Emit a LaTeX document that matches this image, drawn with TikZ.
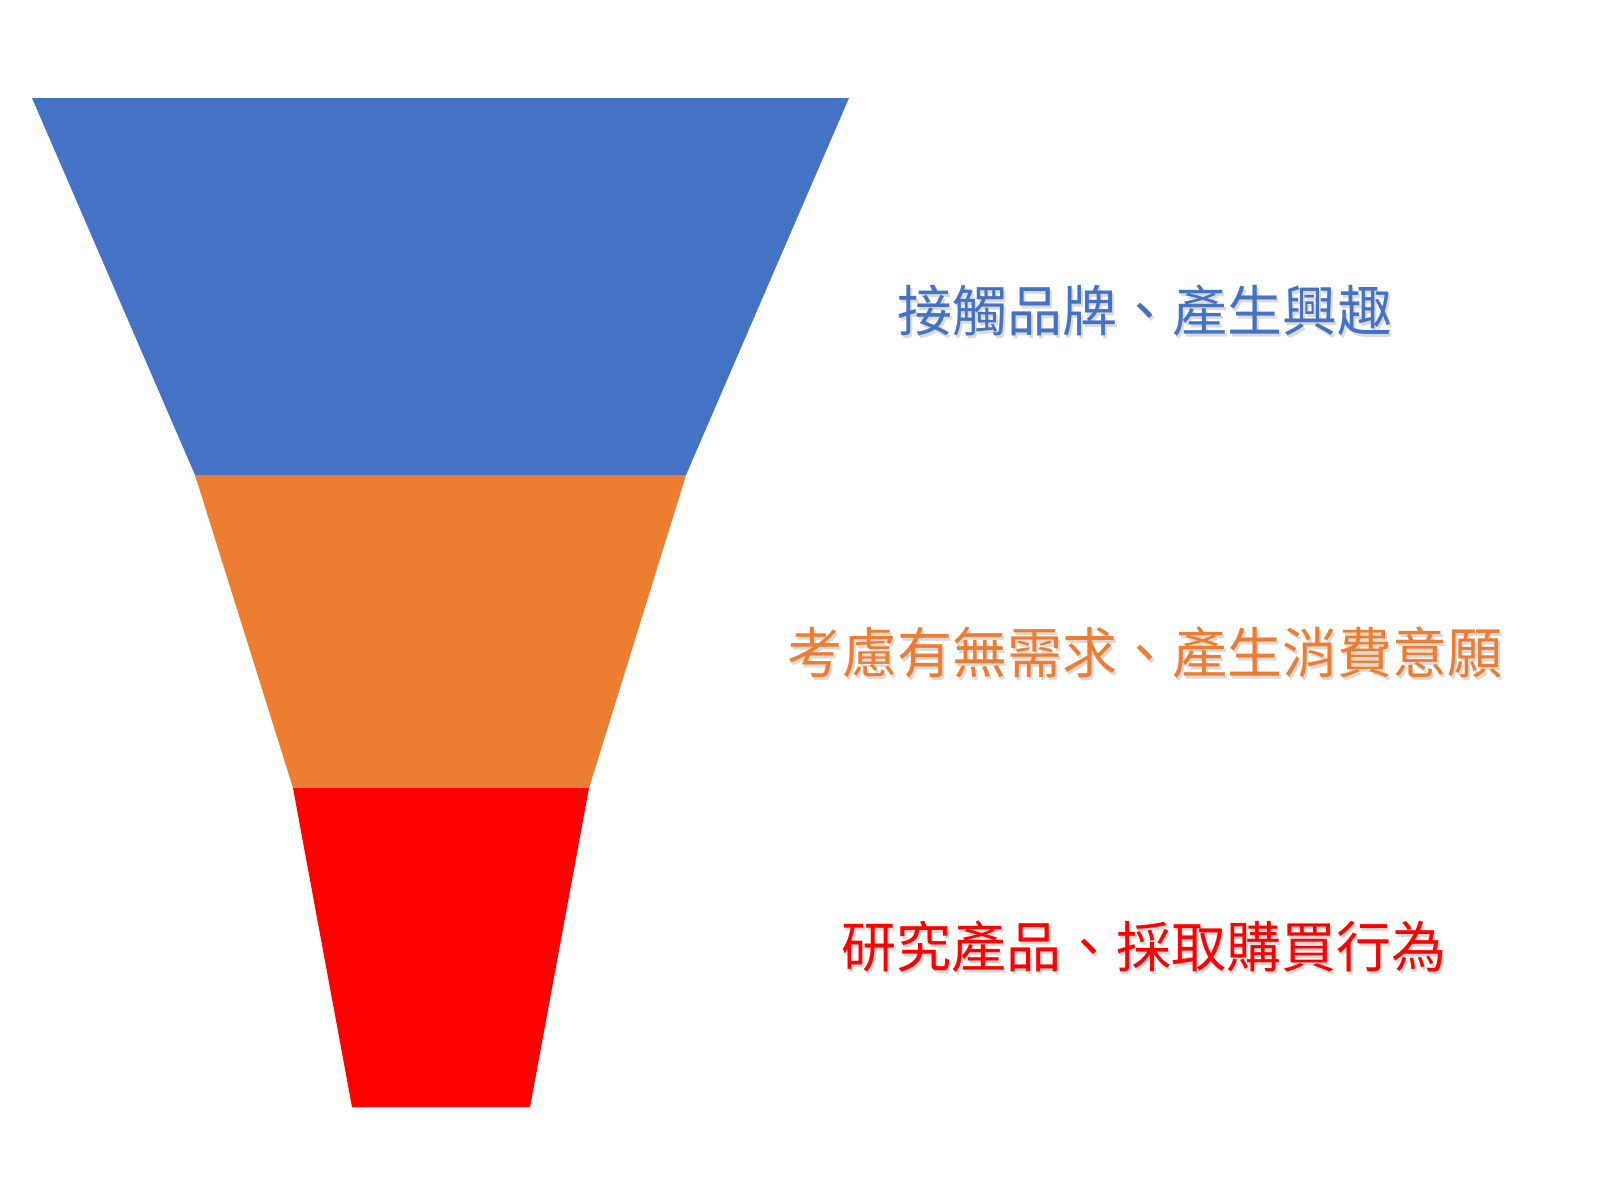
\documentclass[tikz,border=0pt]{standalone}
\usepackage{fontspec}
\newfontfamily\cjk{Noto Sans CJK TC}
\definecolor{fblue}{HTML}{4472C4}
\definecolor{forange}{HTML}{ED7D31}
\definecolor{fred}{HTML}{FF0000}
\tikzset{
  lbl/.style={inner sep=0pt, font=\cjk\fontsize{27.5pt}{30pt}\selectfont},
  shadowlbl/.style={lbl, text=black!14},
}
\begin{document}
\begin{tikzpicture}[x=0.5pt,y=-0.5pt]
\useasboundingbox (0,0) rectangle (1600,1200);
\fill[white] (0,0) rectangle (1600,1200);
% funnel corners
\coordinate (a1) at (32,98);   \coordinate (a2) at (849,98);
\coordinate (b1) at (195,475); \coordinate (b2) at (686,475);
\coordinate (c1) at (293,788); \coordinate (c2) at (589,788);
\coordinate (d1) at (352,1107);\coordinate (d2) at (530,1107);
\fill[fblue] (a1) -- (a2) -- (b2) -- (b1) -- cycle;
\fill[forange] (b1) -- (b2) -- (c2) -- (c1) -- cycle;
\fill[fred] (c1) -- (c2) -- (d2) -- (d1) -- cycle;
% labels with soft shadow
\node[shadowlbl] (s1) at (1147,314) {接觸品牌、產生興趣};
\node[lbl, text=fblue] (t1) at (1145,311) {接觸品牌、產生興趣};
\node[shadowlbl] (s2) at (1147,656) {考慮有無需求、產生消費意願};
\node[lbl, text=forange] (t2) at (1145,653) {考慮有無需求、產生消費意願};
\node[shadowlbl] (s3) at (1146,950) {研究產品、採取購買行為};
\node[lbl, text=fred] (t3) at (1144,947) {研究產品、採取購買行為};
\end{tikzpicture}
\end{document}
